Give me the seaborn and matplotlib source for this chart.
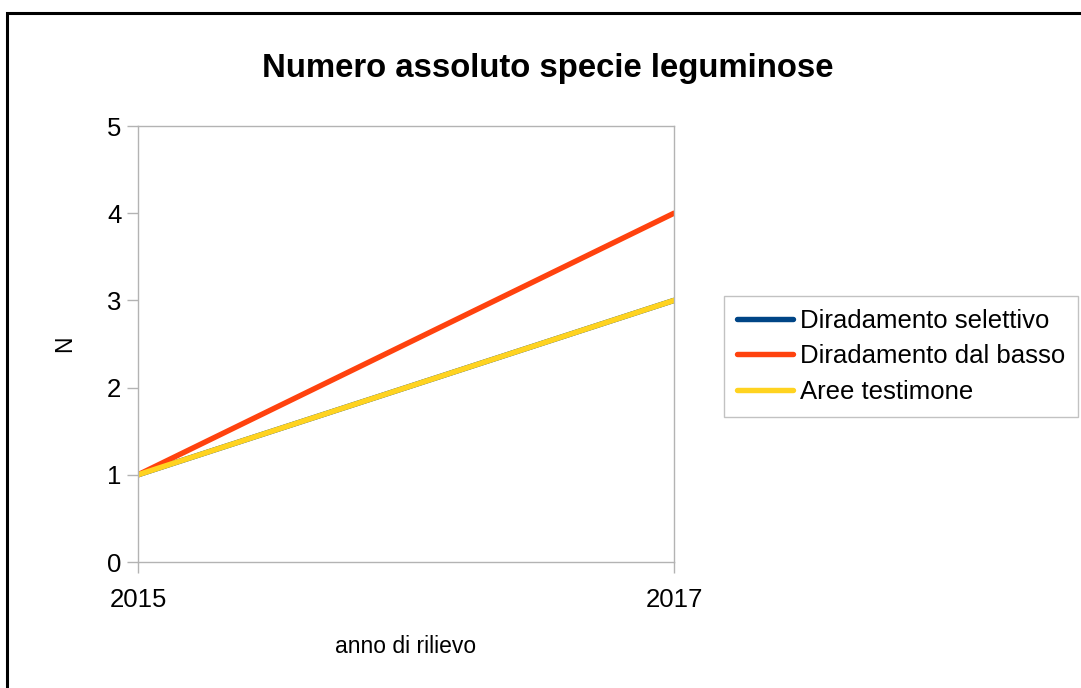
import pandas as pd
import matplotlib
matplotlib.use("Agg")
import matplotlib.pyplot as plt
import seaborn as sns
from matplotlib.patches import Rectangle

# dati: numero assoluto di specie leguminose per anno
anni = [2015, 2017]
selettivo = [1, 3]
dal_basso = [1, 4]
testimone = [1, 3]
serie = ["Diradamento selettivo", "Diradamento dal basso", "Aree testimone"]
colori = ["#004586", "#ff420e", "#ffd320"]

df = pd.DataFrame({
    "anno": anni * 3,
    "N": selettivo + dal_basso + testimone,
    "serie": [serie[0]] * 2 + [serie[1]] * 2 + [serie[2]] * 2,
})

sns.set_style("white")
plt.rcParams["font.family"] = ["Liberation Sans", "DejaVu Sans"]
plt.rcParams["text.color"] = "black"
plt.rcParams["axes.labelcolor"] = "black"
plt.rcParams["xtick.labelcolor"] = "black"
plt.rcParams["ytick.labelcolor"] = "black"

fig = plt.figure(figsize=(10.81, 6.88), dpi=100)
ax = fig.add_axes([138 / 1081, 1 - 562 / 688, (674 - 138) / 1081, (562 - 126) / 688])

sns.lineplot(data=df, x="anno", y="N", hue="serie", hue_order=serie,
             palette=colori, linewidth=3.9, ax=ax, legend=False)

ax.set_xlim(2015, 2017)
ax.set_ylim(0, 5)
ax.set_xticks(anni)
ax.set_xticklabels([str(a) for a in anni])
ax.set_yticks(range(6))
ax.tick_params(axis="both", labelsize=18.5, color="#b3b3b3", length=8, width=1,
               direction="out", left=True, bottom=True, pad=4)
ax.tick_params(axis="x", pad=11)
for sp in ax.spines.values():
    sp.set_color("#b3b3b3")
    sp.set_linewidth(1)

ax.set_xlabel("anno di rilievo", fontsize=16.5, labelpad=16)
ax.set_ylabel("N", fontsize=16.5, labelpad=22)

fig.text(548 / 1081, 1 - 69 / 688, "Numero assoluto specie leguminose",
         fontsize=23.7, fontweight="bold", ha="center", va="center")

handles = [plt.Line2D([], [], color=c, linewidth=3.9) for c in colori]
leg = fig.legend(handles, serie, loc="upper left",
                 bbox_to_anchor=(724 / 1081, 1 - 296 / 688), borderaxespad=0,
                 fontsize=18.5, frameon=True, fancybox=False, edgecolor="#b3b3b3",
                 handlelength=2.2, handletextpad=0.25, labelspacing=0.45,
                 borderpad=0.5)
leg.get_frame().set_linewidth(1)

# cornice esterna del grafico
fig.patches.append(Rectangle((7 / 1081, -0.1), 2, 1.1 - 13 / 688,
                             transform=fig.transFigure, fill=False,
                             edgecolor="black", linewidth=2.2))

fig.savefig("out.png", dpi=100)
